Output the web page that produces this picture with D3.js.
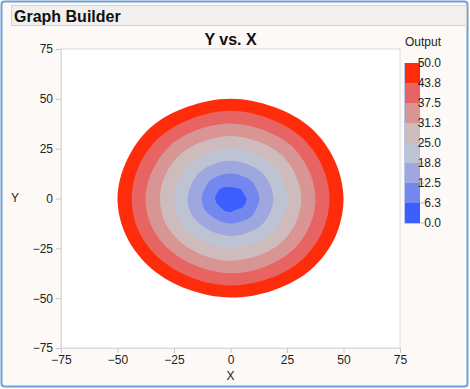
<!DOCTYPE html>
<html><head><meta charset="utf-8">
<script src="https://cdn.jsdelivr.net/npm/d3@7"></script>
<style>
html,body{margin:0;padding:0;background:#fff;}
svg{display:block;font-family:"Liberation Sans",Arial,Helvetica,sans-serif;}
</style></head>
<body>
<script>
// ---- data ----
const xTicks = [-75, -50, -25, 0, 25, 50, 75];
const yTicks = [-75, -50, -25, 0, 25, 50, 75];
const legendLabels = ["50.0", "43.8", "37.5", "31.3", "25.0", "18.8", "12.5", "6.3", "0.0"];
const levels = [50, 43.75, 37.5, 31.25, 25, 18.75, 12.5, 6.25];
const bandColors = ["#ff2c0c", "#e86462", "#d99594", "#cebcbc", "#bec3d3", "#9ea7de", "#7487ee", "#3d5eff"];
// contour boundary radii (data units) read at 16 angles, 0° = east, counter-clockwise
const angles = [0, 22.5, 45, 67.5, 90, 112.5, 135, 157.5, 180, 202.5, 225, 247.5, 270, 292.5, 315, 337.5];
const r50 = [50.0, 49.9, 50.2, 49.8, 50.1, 49.8, 50.2, 49.7, 50.0, 49.8, 49.6, 49.3, 49.7, 49.8, 50.4, 50.2];
const r44 = [43.8, 43.7, 43.9, 43.6, 44.0, 43.6, 43.9, 43.7, 43.7, 43.8, 43.5, 43.3, 43.6, 43.6, 44.1, 43.9];
const r38 = [37.6, 37.4, 37.7, 37.3, 37.6, 37.4, 37.6, 37.3, 37.6, 37.6, 37.3, 37.1, 37.5, 37.4, 37.8, 37.6];
const r31 = [31.3, 31.2, 31.4, 31.1, 31.4, 31.1, 31.4, 31.2, 31.2, 31.3, 31.0, 30.9, 31.2, 31.1, 31.5, 31.3];
const r25 = [25.2, 25.0, 25.3, 24.9, 25.2, 24.9, 25.2, 25.0, 25.1, 25.2, 24.8, 24.7, 25.0, 24.9, 25.3, 25.1];
const r19 = [19.0, 18.8, 19.0, 18.7, 18.9, 18.8, 19.0, 18.7, 19.0, 19.0, 18.6, 18.5, 18.8, 18.7, 19.1, 18.9];
const r13 = [12.8, 12.5, 12.8, 12.4, 12.5, 12.5, 12.7, 12.4, 12.7, 12.7, 12.3, 12.2, 12.6, 12.5, 12.9, 12.6];
const r06 = [7.1, 6.4, 6.5, 5.9, 5.8, 6.2, 6.8, 6.6, 6.9, 6.7, 6.2, 6.8, 6.9, 6.1, 6.9, 7.2];
const boundaries = [r50, r44, r38, r31, r25, r19, r13, r06];

// ---- layout ----
const W = 470, H = 389;
const svg = d3.select("body").append("svg").attr("width", W).attr("height", H);
svg.append("rect").attr("x", 0).attr("y", 0).attr("width", W).attr("height", H).attr("fill", "#ffffff");
svg.append("rect").attr("x", 1.5).attr("y", 1.5).attr("width", 466).attr("height", 385).attr("rx", 3)
  .attr("fill", "#fdf9f6").attr("stroke", "#6f9fd8").attr("stroke-width", 2);
svg.append("rect").attr("x", 11.5).attr("y", 5.5).attr("width", 455).attr("height", 20)
  .attr("fill", "#f1f0ef").attr("stroke", "#d3d3d3");
svg.append("text").attr("x", 14).attr("y", 21.5).attr("font-size", 16).attr("font-weight", "bold")
  .attr("fill", "#111").text("Graph Builder");

const L = 61, R = 400, T = 49, B = 348;
const x = d3.scaleLinear().domain([-75, 75]).range([L, R]);
const y = d3.scaleLinear().domain([-75, 75]).range([B, T]);

svg.append("rect").attr("x", L).attr("y", T).attr("width", R - L).attr("height", B - T)
  .attr("fill", "#ffffff").attr("stroke", "#dcdcdc");

// contours
const line = d3.line().x(d => x(d[0])).y(d => y(d[1])).curve(d3.curveCatmullRomClosed.alpha(0.5));
const coreLine = d3.line().x(d => x(d[0])).y(d => y(d[1])).curve(d3.curveLinearClosed);
boundaries.forEach((rs, i) => {
  const pts = angles.map((a, k) => {
    const t = a * Math.PI / 180;
    return [rs[k] * Math.cos(t), rs[k] * Math.sin(t)];
  });
  const gen = i === boundaries.length - 1 ? coreLine : line;
  svg.append("path").attr("d", gen(pts)).attr("fill", bandColors[i]).attr("stroke", "none");
});

// axes
const xAxis = svg.append("g").attr("transform", `translate(0,${B})`)
  .call(d3.axisBottom(x).tickValues(xTicks).tickSize(5).tickPadding(2).tickFormat(d3.format("d")));
const yAxis = svg.append("g").attr("transform", `translate(${L},0)`)
  .call(d3.axisLeft(y).tickValues(yTicks).tickSize(5).tickPadding(3).tickFormat(d3.format("d")));
[xAxis, yAxis].forEach(g => {
  g.select(".domain").attr("stroke", "#dcdcdc");
  g.selectAll(".tick line").attr("stroke", "#c8c8c8");
  g.selectAll("text").attr("font-size", 12).attr("fill", "#222")
    .attr("font-family", '"Liberation Sans",Arial,Helvetica,sans-serif');
});

svg.append("text").attr("x", 230.5).attr("y", 380).attr("text-anchor", "middle").attr("font-size", 12)
  .attr("fill", "#222").text("X");
svg.append("text").attr("x", 15).attr("y", 202).attr("text-anchor", "middle").attr("font-size", 12)
  .attr("fill", "#222").text("Y");
svg.append("text").attr("x", 230.5).attr("y", 45).attr("text-anchor", "middle").attr("font-size", 16)
  .attr("font-weight", "bold").attr("fill", "#111").text("Y vs. X");

// legend
svg.append("text").attr("x", 405).attr("y", 46).attr("font-size", 12).attr("fill", "#222").text("Output");
const ly = d3.scaleLinear().domain([0, 8]).range([63, 223]);
bandColors.forEach((c, i) => {
  svg.append("rect").attr("x", 405).attr("y", ly(i)).attr("width", 15).attr("height", ly(i + 1) - ly(i))
    .attr("fill", c);
});
svg.append("path").attr("d", `M404.5,${ly(0)}V${ly(8) + 0.5}H420`).attr("fill", "none").attr("stroke", "#b9c9ee");
legendLabels.forEach((t, i) => {
  svg.append("line").attr("x1", 420).attr("x2", 424).attr("y1", ly(i)).attr("y2", ly(i)).attr("stroke", "#bbb");
  svg.append("text").attr("x", 441).attr("y", ly(i) + 4).attr("text-anchor", "end").attr("font-size", 12)
    .attr("fill", "#222").text(t);
});
</script>
</body></html>
